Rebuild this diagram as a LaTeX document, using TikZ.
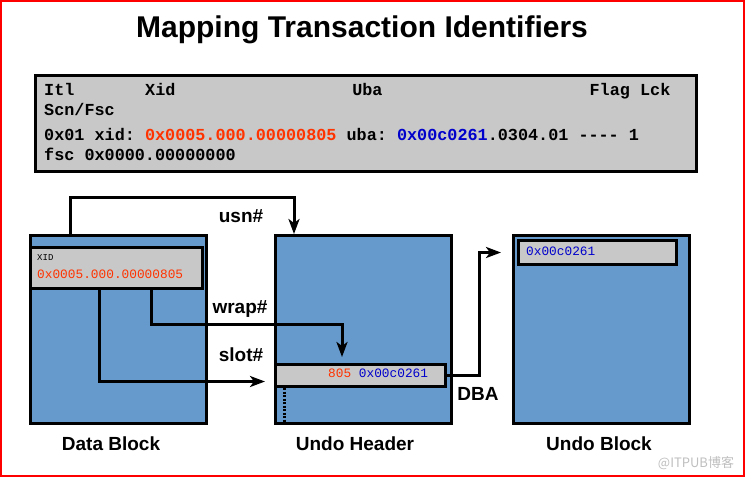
\documentclass[tikz,border=0pt]{standalone}
\usepackage{fontspec}
\setmainfont{Liberation Sans}
\setmonofont{Liberation Mono}
\newfontfamily\cjk{Noto Sans CJK SC}
\usetikzlibrary{arrows.meta,positioning}
\definecolor{blockblue}{RGB}{102,153,204}
\definecolor{slotgray}{RGB}{200,200,200}
\definecolor{xidred}{RGB}{255,51,0}
\definecolor{ubablue}{RGB}{0,0,204}
\tikzset{x=1pt, y=-1pt}
\tikzset{
 block/.style={draw, line width=3pt, fill=blockblue, inner sep=0pt, anchor=north west,
  minimum width=176pt, minimum height=188pt},
 entry/.style={draw, line width=3pt, fill=slotgray, inner sep=0pt, anchor=north west},
 mono/.style={font=\fontsize{16.8}{20}\selectfont\ttfamily\bfseries, inner sep=0pt, anchor=base west},
 small/.style={font=\fontsize{12.8}{15}\selectfont\ttfamily, inner sep=0pt, anchor=base west},
 label/.style={font=\fontsize{19}{22}\selectfont\bfseries, inner sep=0pt},
 link/.style={line width=3pt, -{Stealth[length=15pt,width=11pt,inset=4pt]}}
}

\begin{document}
\begin{tikzpicture}
\useasboundingbox (0,0) rectangle (745,477);
\draw[red, line width=2pt] (1,1) rectangle (744,476); % frame
\node[font=\fontsize{30}{34}\selectfont\bfseries] (title) at (362,30) {Mapping Transaction Identifiers};

% the ITL entry
\node[entry, minimum width=661pt, minimum height=96pt] (itl) at (34,74) {};
\foreach \word/\col in {Itl/0, Xid/10, Uba/30.5, Flag/54, Lck/59}
 \node[mono] (hd-\word) at (44+\col*10.1,95) {\word};
\node[mono] (hd-scn) at (44,115) {Scn/Fsc};
\node[mono] (itl-row) at (44,140) {0x01 xid: \textcolor{xidred}{0x0005.000.00000805} uba: \textcolor{ubablue}{0x00c0261}.0304.01 ---- 1};
\node[mono] (itl-fsc) at (44,160) {fsc 0x0000.00000000};

% blocks
\node[block] (data) at (29,234) {};
\node[block] (uhdr) at (274,234) {};
\node[block] (ublock) at (512,234) {};
\node[entry, minimum width=172pt, minimum height=41pt] (xid) at (29,246) {};
\node[entry, minimum width=170pt, minimum height=22pt] (slot) at (274,363) {};
\node[entry, minimum width=158pt, minimum height=24pt] (ubid) at (517,239) {};

\node[small, font=\fontsize{9}{11}\selectfont\ttfamily] (xid-tag) at (37,260) {XID};
\node[small, xidred] (xid-val) at (37,278) {0x0005.000.00000805};
\node[small] (slot-val) at (328,377) {\textcolor{xidred}{805} \textcolor{ubablue}{0x00c0261}};
\node[small, ubablue] (ubid-val) at (526,255) {0x00c0261};

\node[label] (l-data) at (111,444) {Data Block};
\node[label] (l-uhdr) at (355,444) {Undo Header};
\node[label] (l-ublock) at (599,444) {Undo Block};
\node[label] (l-usn) at (241,216) {usn\#};
\node[label] (l-wrap) at (240,309) {wrap\#};
\node[label] (l-slot) at (241,355) {slot\#};
\node[label] (l-dba) at (478,394) {DBA};

% connectors
\draw[link] ([xshift=41pt]data.north west) -- ++(0,-37) -| ([xshift=20pt]uhdr.north west);
\draw[link, shorten >=6pt] ([xshift=122pt]xid.south west) -- ++(0,34.5) -| ([xshift=68pt]slot.north west);
\draw[link] ([xshift=70pt]xid.south west) |- ([shift={(-9,6)}]slot.west);
\draw[link] (slot.east) -- ++(32,0) |- ([xshift=-16pt]ubid.west);
\draw[line width=3pt, dash pattern=on 2pt off 1.5pt] ([xshift=10pt]slot.south west) -- ++(0,34);

\node[font=\fontsize{13}{15}\selectfont\cjk, text=black!25] (mark) at (696,463) {@ITPUB博客};
\end{tikzpicture}
\end{document}
